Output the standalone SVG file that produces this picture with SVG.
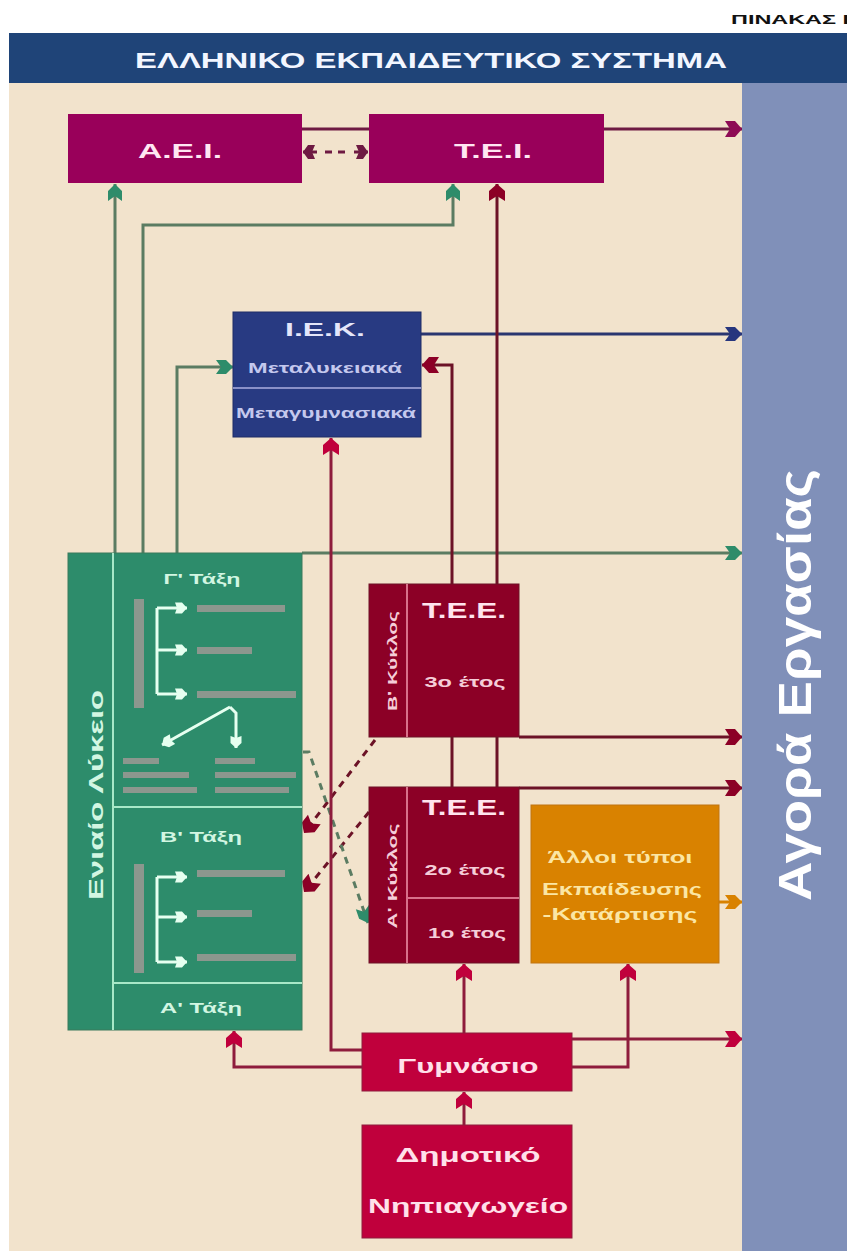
<svg xmlns="http://www.w3.org/2000/svg" width="847" height="1251" viewBox="0 0 847 1251">
<style>
text{font-family:"Liberation Sans",Arial,sans-serif;font-weight:bold}
.ln{fill:none;stroke-width:3}
.gr{stroke:#5b7c62}
.pu{stroke:#6e1a42}
.nv{stroke:#2a3670}
.dr{stroke:#6c1226}
.cr{stroke:#8e1c3c}
.or{stroke:#d98200}
.wh{stroke:#e6fff0;stroke-width:3;fill:none}
.bar{fill:#8c978e}
.dash{stroke-dasharray:7 6}
.mint{fill:#d2f6e2}
.pink{fill:#f5cdd8}
</style>
<defs>
<marker id="mPu" markerUnits="userSpaceOnUse" markerWidth="18" markerHeight="18" refX="17" refY="9" orient="auto"><path d="M0,1 L10,1 L17,9 L10,17 L0,17 L5,9 Z" fill="#8e0b55"/></marker>
<marker id="mPu2" markerUnits="userSpaceOnUse" markerWidth="13" markerHeight="16" refX="12" refY="8" orient="auto"><path d="M0,1 L7,1 L12,8 L7,15 L0,15 L3,8 Z" fill="#6e1a42"/></marker>
<marker id="mNv" markerUnits="userSpaceOnUse" markerWidth="18" markerHeight="18" refX="17" refY="9" orient="auto"><path d="M0,2 L10,2 L17,9 L10,16 L0,16 L5,9 Z" fill="#27367e"/></marker>
<marker id="mGr" markerUnits="userSpaceOnUse" markerWidth="18" markerHeight="18" refX="17" refY="9" orient="auto"><path d="M0,2 L10,2 L17,9 L10,16 L0,16 L5,9 Z" fill="#2e8c6a"/></marker>
<marker id="mDr" markerUnits="userSpaceOnUse" markerWidth="18" markerHeight="18" refX="17" refY="9" orient="auto"><path d="M0,1 L10,1 L17,9 L10,17 L0,17 L5,9 Z" fill="#8c0026"/></marker>
<marker id="mCr" markerUnits="userSpaceOnUse" markerWidth="18" markerHeight="18" refX="17" refY="9" orient="auto"><path d="M0,1 L10,1 L17,9 L10,17 L0,17 L5,9 Z" fill="#c0003c"/></marker>
<marker id="mOr" markerUnits="userSpaceOnUse" markerWidth="18" markerHeight="18" refX="17" refY="9" orient="auto"><path d="M0,2 L10,2 L17,9 L10,16 L0,16 L5,9 Z" fill="#d98200"/></marker>
<marker id="mWh" markerUnits="userSpaceOnUse" markerWidth="13" markerHeight="13" refX="12" refY="6.5" orient="auto"><path d="M0,1 L7,1 L12,6.5 L7,12 L0,12 L2,6.5 Z" fill="#e6fff0"/></marker>
</defs>

<rect x="0" y="0" width="847" height="1251" fill="#ffffff"/>
<rect x="9" y="83" width="733" height="1168" fill="#f2e3cc"/>

<g id="header">
<rect x="9" y="33" width="838" height="50" fill="#1f4478"/>
<text x="135" y="68" font-size="22" textLength="592" lengthAdjust="spacingAndGlyphs" fill="#f2f6ff">ΕΛΛΗΝΙΚΟ ΕΚΠΑΙΔΕΥΤΙΚΟ ΣΥΣΤΗΜΑ</text>
<text x="731" y="24" font-size="13" textLength="118" lengthAdjust="spacingAndGlyphs" fill="#111111">ΠΙΝΑΚΑΣ Ι</text>
</g>

<g id="agora">
<rect x="742" y="83" width="105" height="1168" fill="#8090b9"/>
<text transform="translate(811,685) rotate(-90)" text-anchor="middle" font-size="47" textLength="432" lengthAdjust="spacingAndGlyphs" fill="#ffffff">Αγορά Εργασίας</text>
</g>

<g id="connectors">
<path class="ln pu" d="M302,129 H369"/>
<path class="ln pu dash" d="M325,152 H346"/>
<path class="ln pu" d="M317,152 H303" marker-end="url(#mPu2)"/>
<path class="ln pu" d="M354,152 H368" marker-end="url(#mPu2)"/>
<path class="ln pu" d="M604,129 H742" marker-end="url(#mPu)"/>
<path class="ln nv" d="M421,334 H742" marker-end="url(#mNv)"/>
<path class="ln gr" d="M115,553 V184" marker-end="url(#mGr)"/>
<path class="ln gr" d="M143,553 V225 H453 V184" marker-end="url(#mGr)"/>
<path class="ln gr" d="M177,553 V367 H233" marker-end="url(#mGr)"/>
<path class="ln gr" d="M302,553 H742" marker-end="url(#mGr)"/>
<path class="ln dr" d="M452,787 V365 H422" marker-end="url(#mDr)"/>
<path class="ln dr" d="M497,787 V184" marker-end="url(#mDr)"/>
<path class="ln dr" d="M519,737 H742" marker-end="url(#mDr)"/>
<path class="ln dr" d="M519,788 H742" marker-end="url(#mDr)"/>
<path class="ln dr dash" d="M375,740 L304,833" marker-end="url(#mDr)"/>
<path class="ln dr dash" d="M369,812 L304,892" marker-end="url(#mDr)"/>
<path class="ln gr dash" d="M303,752 H309 L368,923" marker-end="url(#mGr)"/>
<path class="ln cr" d="M362,1050 H331 V438" marker-end="url(#mCr)"/>
<path class="ln cr" d="M362,1067 H234 V1031" marker-end="url(#mCr)"/>
<path class="ln cr" d="M464,1033 V964" marker-end="url(#mCr)"/>
<path class="ln cr" d="M572,1067 H628 V964" marker-end="url(#mCr)"/>
<path class="ln cr" d="M572,1039 H742" marker-end="url(#mCr)"/>
<path class="ln cr" d="M464,1125 V1092" marker-end="url(#mCr)"/>
<path class="ln or" d="M719,902 H742" marker-end="url(#mOr)"/>
</g>

<g id="aei">
<rect x="68" y="114" width="234" height="69" fill="#99005a"/>
<text x="180" y="158" font-size="21" text-anchor="middle" textLength="84" lengthAdjust="spacingAndGlyphs" fill="#ffe6f2">Α.Ε.Ι.</text>
</g>

<g id="tei">
<rect x="369" y="114" width="235" height="69" fill="#99005a"/>
<text x="493" y="158" font-size="21" text-anchor="middle" textLength="78" lengthAdjust="spacingAndGlyphs" fill="#ffe6f2">Τ.Ε.Ι.</text>
</g>

<g id="iek">
<rect x="233" y="312" width="188" height="125" fill="#283a82" stroke="#1e2c66" stroke-width="1"/>
<line x1="233" y1="388" x2="421" y2="388" stroke="#8a90c8" stroke-width="2"/>
<text x="325" y="336" font-size="19" text-anchor="middle" textLength="80" lengthAdjust="spacingAndGlyphs" fill="#e4e6fa">Ι.Ε.Κ.</text>
<text x="325" y="373" font-size="15" text-anchor="middle" textLength="154" lengthAdjust="spacingAndGlyphs" fill="#c4c8ee">Μεταλυκειακά</text>
<text x="326" y="418" font-size="15" text-anchor="middle" textLength="180" lengthAdjust="spacingAndGlyphs" fill="#c4c8ee">Μεταγυμνασιακά</text>
</g>

<g id="lykeio">
<rect x="68" y="553" width="234" height="477" fill="#2d8c6b" stroke="#3b7a5c" stroke-width="1"/>
<line x1="113" y1="553" x2="113" y2="1030" stroke="#a8e8c8" stroke-width="2"/>
<line x1="113" y1="807" x2="302" y2="807" stroke="#a8e8c8" stroke-width="2"/>
<line x1="113" y1="983" x2="302" y2="983" stroke="#a8e8c8" stroke-width="2"/>
<text transform="translate(103,795) rotate(-90)" text-anchor="middle" font-size="20" textLength="210" lengthAdjust="spacingAndGlyphs" class="mint">Ενιαίο Λύκειο</text>
<text x="202" y="584" font-size="15" text-anchor="middle" textLength="77" lengthAdjust="spacingAndGlyphs" class="mint">Γ' Τάξη</text>
<text x="201" y="842" font-size="15" text-anchor="middle" textLength="82" lengthAdjust="spacingAndGlyphs" class="mint">Β' Τάξη</text>
<text x="201" y="1013" font-size="15" text-anchor="middle" textLength="82" lengthAdjust="spacingAndGlyphs" class="mint">Α' Τάξη</text>
<rect class="bar" x="134" y="599" width="10" height="109"/>
<path class="wh" d="M157,608 V694"/>
<path class="wh" d="M157,608 H187" marker-end="url(#mWh)"/>
<path class="wh" d="M157,650 H187" marker-end="url(#mWh)"/>
<path class="wh" d="M157,694 H187" marker-end="url(#mWh)"/>
<rect class="bar" x="197" y="605" width="88" height="7"/>
<rect class="bar" x="197" y="647" width="55" height="7"/>
<rect class="bar" x="197" y="691" width="99" height="7"/>
<path class="wh" d="M230,707 L162,745" marker-end="url(#mWh)"/>
<path class="wh" d="M230,707 L236,713 V748" marker-end="url(#mWh)"/>
<rect class="bar" x="123" y="758" width="36" height="6"/>
<rect class="bar" x="123" y="772" width="66" height="6"/>
<rect class="bar" x="123" y="787" width="74" height="6"/>
<rect class="bar" x="215" y="758" width="40" height="6"/>
<rect class="bar" x="215" y="772" width="81" height="6"/>
<rect class="bar" x="215" y="787" width="74" height="6"/>
<rect class="bar" x="134" y="864" width="10" height="109"/>
<path class="wh" d="M157,877 V962"/>
<path class="wh" d="M157,877 H187" marker-end="url(#mWh)"/>
<path class="wh" d="M157,917 H187" marker-end="url(#mWh)"/>
<path class="wh" d="M157,962 H187" marker-end="url(#mWh)"/>
<rect class="bar" x="197" y="870" width="88" height="7"/>
<rect class="bar" x="197" y="910" width="55" height="7"/>
<rect class="bar" x="197" y="954" width="99" height="7"/>
</g>

<g id="tee-b">
<rect x="369" y="584" width="150" height="153" fill="#8c0026" stroke="#6c1226" stroke-width="1"/>
<line x1="407" y1="584" x2="407" y2="737" stroke="#d8708a" stroke-width="2"/>
<text transform="translate(397,661) rotate(-90)" text-anchor="middle" font-size="13" textLength="100" lengthAdjust="spacingAndGlyphs" class="pink">Β' Κύκλος</text>
<text x="464" y="618" font-size="22" text-anchor="middle" textLength="84" lengthAdjust="spacingAndGlyphs" fill="#ffe4ee">Τ.Ε.Ε.</text>
<text x="465" y="687" font-size="15" text-anchor="middle" textLength="81" lengthAdjust="spacingAndGlyphs" class="pink">3ο έτος</text>
</g>

<g id="tee-a">
<rect x="369" y="787" width="150" height="176" fill="#8c0026" stroke="#6c1226" stroke-width="1"/>
<line x1="407" y1="787" x2="407" y2="963" stroke="#d8708a" stroke-width="2"/>
<line x1="407" y1="898" x2="519" y2="898" stroke="#d8708a" stroke-width="2"/>
<text transform="translate(397,876) rotate(-90)" text-anchor="middle" font-size="13" textLength="105" lengthAdjust="spacingAndGlyphs" class="pink">Α' Κύκλος</text>
<text x="464" y="815" font-size="22" text-anchor="middle" textLength="84" lengthAdjust="spacingAndGlyphs" fill="#ffe4ee">Τ.Ε.Ε.</text>
<text x="465" y="875" font-size="15" text-anchor="middle" textLength="81" lengthAdjust="spacingAndGlyphs" class="pink">2ο έτος</text>
<text x="467" y="938" font-size="15" text-anchor="middle" textLength="78" lengthAdjust="spacingAndGlyphs" class="pink">1ο έτος</text>
</g>

<g id="alloi">
<rect x="531" y="805" width="188" height="158" fill="#d98200" stroke="#c07410" stroke-width="1"/>
<text x="620" y="863" font-size="16" text-anchor="middle" textLength="145" lengthAdjust="spacingAndGlyphs" fill="#fbe6a4">Άλλοι τύποι</text>
<text x="622" y="895" font-size="16" text-anchor="middle" textLength="160" lengthAdjust="spacingAndGlyphs" fill="#fbe6a4">Εκπαίδευσης</text>
<text x="620" y="920" font-size="16" text-anchor="middle" textLength="155" lengthAdjust="spacingAndGlyphs" fill="#fbe6a4">-Κατάρτισης</text>
</g>

<g id="gymnasio">
<rect x="362" y="1033" width="210" height="58" fill="#c0003c" stroke="#8e1c3c" stroke-width="1"/>
<text x="468" y="1073" font-size="20" text-anchor="middle" textLength="141" lengthAdjust="spacingAndGlyphs" fill="#ffe0ea">Γυμνάσιο</text>
</g>

<g id="dimotiko">
<rect x="362" y="1125" width="210" height="113" fill="#c0003c" stroke="#8e1c3c" stroke-width="1"/>
<text x="468" y="1162" font-size="20" text-anchor="middle" textLength="145" lengthAdjust="spacingAndGlyphs" fill="#ffe0ea">Δημοτικό</text>
<text x="468" y="1213" font-size="20" text-anchor="middle" textLength="200" lengthAdjust="spacingAndGlyphs" fill="#ffe0ea">Νηπιαγωγείο</text>
</g>
</svg>
